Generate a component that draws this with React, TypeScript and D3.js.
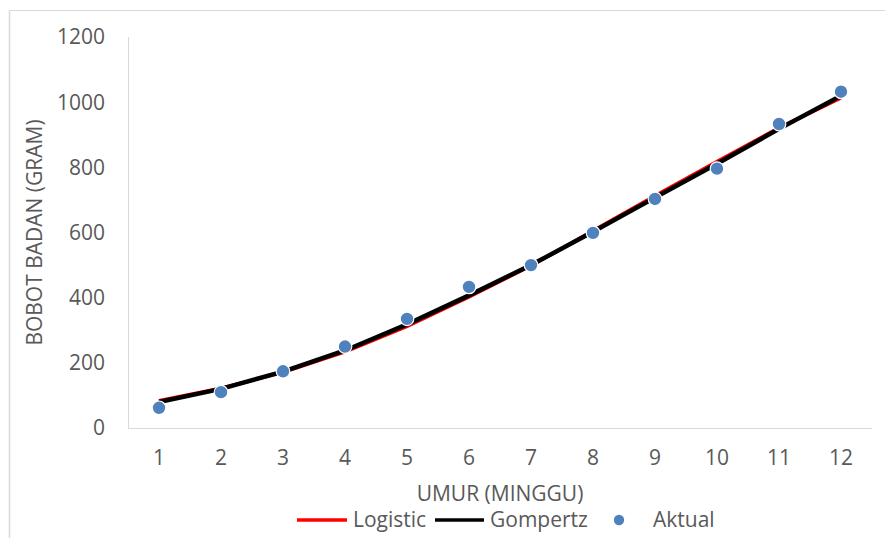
import React from "react";
import * as d3 from "d3";

const weeks = [1, 2, 3, 4, 5, 6, 7, 8, 9, 10, 11, 12];
const aktual = [62, 110, 174, 250, 335, 433, 500, 599, 703, 796, 933, 1032];
const gompertz = [80, 120, 173, 238, 318, 407, 500, 602, 707, 811, 918, 1020];
const logistic = [84, 122, 171, 234, 312, 402, 498, 605, 713, 818, 921, 1013];
const yTicks = [0, 200, 400, 600, 800, 1000, 1200];

const W = 885;
const H = 538;
const plot = { left: 128, right: 872, top: 37, bottom: 428 };
const FONT = "'Open Sans', 'Noto Sans', sans-serif";
const TXT = "#595959";
const AXIS = "#d9d9d9";
const BLUE = "#4F81BD";

export default function App() {
  const x = d3
    .scaleBand<number>()
    .domain(weeks)
    .range([plot.left, plot.right]);
  const cx = (w: number) => (x(w) as number) + x.bandwidth() / 2;
  const y = d3.scaleLinear().domain([0, 1200]).range([plot.bottom, plot.top]);

  const line = d3
    .line<number>()
    .x((_, i) => cx(weeks[i]))
    .y((d) => y(d));

  return (
    <div style={{ position: "absolute", left: 0, top: 0 }}>
      <svg width={W} height={H} style={{ display: "block", background: "#fff" }}>
        <rect x={0} y={0} width={W} height={H} fill="#fff" />
        {/* outer border (top & left visible) */}
        <line x1={9.5} x2={W} y1={10.5} y2={10.5} stroke={AXIS} strokeWidth={1} />
        <line x1={9.5} x2={9.5} y1={10.5} y2={H} stroke={AXIS} strokeWidth={1.5} />

        {/* axes */}
        <line x1={plot.left + 0.5} x2={plot.left + 0.5} y1={plot.top} y2={plot.bottom} stroke={AXIS} />
        <line x1={plot.left} x2={plot.right} y1={plot.bottom + 0.5} y2={plot.bottom + 0.5} stroke={AXIS} />

        {/* y ticks */}
        {yTicks.map((t) => (
          <text
            key={t}
            x={105}
            y={y(t)}
            dy="0.35em"
            textAnchor="end"
            fontFamily={FONT}
            fontSize={21}
            fill={TXT}
          >
            {t}
          </text>
        ))}
        {/* x ticks */}
        {weeks.map((w) => (
          <text
            key={w}
            x={cx(w)}
            y={458}
            dy="0.35em"
            textAnchor="middle"
            fontFamily={FONT}
            fontSize={21}
            fill={TXT}
          >
            {w}
          </text>
        ))}

        {/* axis titles */}
        <text
          transform={`translate(35,${(plot.top + plot.bottom) / 2}) rotate(-90)`}
          textAnchor="middle"
          dy="0.35em"
          fontFamily={FONT}
          fontSize={21}
          fill={TXT}
        >
          BOBOT BADAN (GRAM)
        </text>
        <text
          x={(plot.left + plot.right) / 2}
          y={494}
          dy="0.35em"
          textAnchor="middle"
          fontFamily={FONT}
          fontSize={21}
          fill={TXT}
        >
          UMUR (MINGGU)
        </text>

        {/* series */}
        <path d={line(logistic) || ""} fill="none" stroke="#ff0000" strokeWidth={3.5} />
        <path d={line(gompertz) || ""} fill="none" stroke="#000" strokeWidth={4.5} />
        {aktual.map((v, i) => (
          <circle key={i} cx={cx(weeks[i])} cy={y(v)} r={6.8} fill={BLUE} stroke="#fff" strokeWidth={1.2} />
        ))}

        {/* legend */}
        <g fontFamily={FONT} fontSize={21} fill={TXT}>
          <line x1={297} x2={347} y1={520} y2={520} stroke="#ff0000" strokeWidth={3.5} />
          <text x={353} y={520} dy="0.35em">Logistic</text>
          <line x1={435} x2={484} y1={520} y2={520} stroke="#000" strokeWidth={3.5} />
          <text x={490} y={520} dy="0.35em">Gompertz</text>
          <circle cx={619} cy={520} r={5.2} fill={BLUE} />
          <text x={653} y={520} dy="0.35em">Aktual</text>
        </g>
      </svg>
    </div>
  );
}
